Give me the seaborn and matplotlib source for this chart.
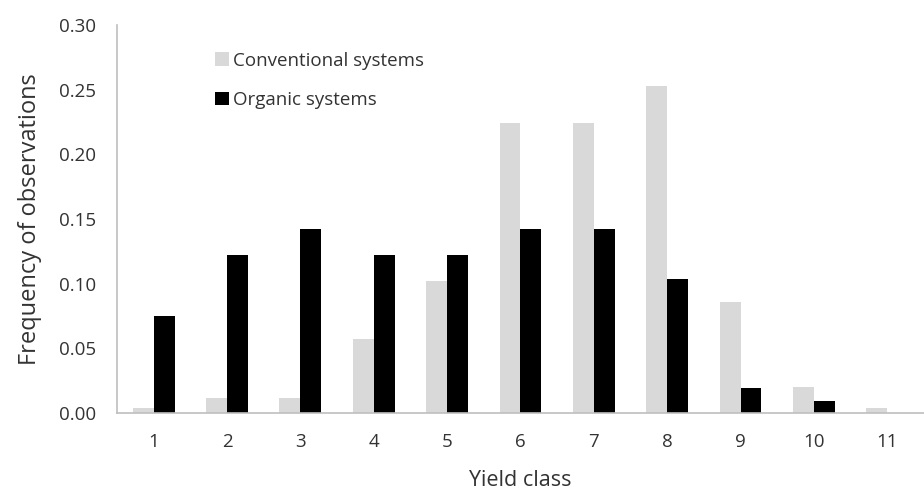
import numpy as np
import pandas as pd
import matplotlib
matplotlib.use('Agg')
import matplotlib.pyplot as plt
import seaborn as sns

# Values
yield_class = ['1', '2', '3', '4', '5', '6', '7', '8', '9', '10', '11']
conventional = [0.004, 0.012, 0.012, 0.057, 0.102, 0.224, 0.224, 0.253, 0.086, 0.020, 0.004]
organic = [0.075, 0.122, 0.142, 0.122, 0.122, 0.142, 0.142, 0.104, 0.019, 0.009, 0.0]
series = ['Conventional systems', 'Organic systems']

df = pd.DataFrame({
    'Yield class': yield_class * 2,
    'Frequency': conventional + organic,
    'System': [series[0]] * len(yield_class) + [series[1]] * len(yield_class),
})

sns.set_style('white')
plt.rcParams['font.family'] = ['Open Sans', 'DejaVu Sans']

fig = plt.figure(figsize=(9.24, 4.9), dpi=100)
ax = fig.add_axes([0.1266, 0.157, 0.8734, 0.792])

sns.barplot(data=df, x='Yield class', y='Frequency', hue='System',
            palette=['#d9d9d9', '#000000'], width=0.57, linewidth=0,
            edgecolor='none', ax=ax)

ax.set_ylim(0, 0.30)
ax.set_xlim(-0.5, len(yield_class) - 0.5)
ax.set_yticks(np.arange(0, 0.31, 0.05))
ax.set_yticklabels([f'{v:.2f}' for v in np.arange(0, 0.31, 0.05)])

grey = '#bfbfbf'
txt = '#333333'
for side in ['top', 'right']:
    ax.spines[side].set_visible(False)
for side in ['left', 'bottom']:
    ax.spines[side].set_color(grey)
    ax.spines[side].set_linewidth(1.2)

ax.set_xticks(np.arange(-0.5, len(yield_class), 1.0), minor=True)
ax.tick_params(axis='x', which='major', length=0, pad=14, labelsize=13.5, colors=txt)
ax.tick_params(axis='x', which='minor', length=5, color=grey, width=1.2)
ax.tick_params(axis='y', length=5, color=grey, width=1.2, labelsize=13.5, colors=txt, pad=10)

ax.set_xlabel('Yield class', fontsize=15.5, color=txt, labelpad=14)
ax.set_ylabel('Frequency of observations', fontsize=17, color=txt, labelpad=12)

leg = ax.legend(loc='upper left', bbox_to_anchor=(0.1, 0.975), frameon=False,
                fontsize=13.5, handlelength=0.75, handleheight=0.75, handletextpad=0.25,
                labelspacing=1.15)
for t in leg.get_texts():
    t.set_color(txt)

fig.savefig('out.png', dpi=100)
